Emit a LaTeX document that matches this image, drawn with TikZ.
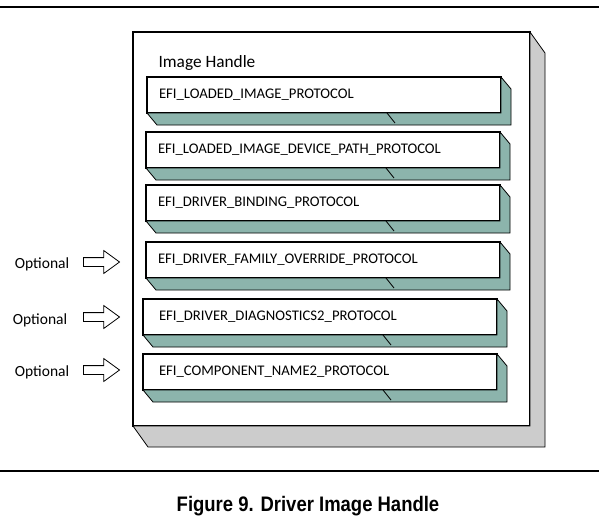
\documentclass[tikz,border=0pt]{standalone}
\usepackage{fontspec}
\setmainfont{Carlito}
\newfontfamily\capfont[FakeStretch=0.88]{Liberation Sans}
\usetikzlibrary{shapes.arrows}
\definecolor{sidecol}{HTML}{8CB4AC}
\definecolor{shellcol}{HTML}{CCCCCC}

\begin{document}
\begin{tikzpicture}[x=1pt, y=-1pt,
		front/.style={draw, line width=1.3pt, fill=white, anchor=north west, outer sep=0pt},
		slab/.style={front, inner xsep=12pt, text width=330pt, minimum height=36pt, align=left, font=\fontsize{14.7}{16}\selectfont},
		slabwide/.style={slab, inner xsep=16pt, text width=322pt},
		side/.style={draw, line width=0.8pt, fill=sidecol},
		hollow/.style={draw, line width=0.8pt, single arrow, single arrow head extend=7pt, single arrow tip angle=72, minimum height=36pt, minimum width=22pt, inner xsep=0pt, inner ysep=4pt},
		optlabel/.style={font=\fontsize{15.5}{17}\selectfont}]
	\useasboundingbox (0,0) rectangle (599,525);
	\draw[line width=2.5pt] (0,7) -- (599,7);
	\draw[line width=2.5pt] (0,471) -- (599,471);

	\node[front, minimum width=397pt, minimum height=394pt] at (133,32) (handle) {};
	\draw[side, fill=shellcol] (handle.north east) -- ++(15,21) |- ([shift={(15,21)}]handle.south west) -- (handle.south west) -| (handle.north east) -- cycle;
	\node[anchor=west, font=\fontsize{17.3}{19}\selectfont] at (155,63) (title) {Image Handle};

	\node[slab] at (147,77) (p1) {EFI\_LOADED\_IMAGE\_PROTOCOL};
	\node[slab] at (146,132) (p2) {EFI\_LOADED\_IMAGE\_DEVICE\_PATH\_PROTOCOL};
	\node[slab] at (146,185) (p3) {EFI\_DRIVER\_BINDING\_PROTOCOL};
	\node[slab] at (146,242) (p4) {EFI\_DRIVER\_FAMILY\_OVERRIDE\_PROTOCOL};
	\node[slabwide] at (143,299) (p5) {EFI\_DRIVER\_DIAGNOSTICS2\_PROTOCOL};
	\node[slabwide] at (143,354) (p6) {EFI\_COMPONENT\_NAME2\_PROTOCOL};

	\foreach \n in {p1,p2,p3,p4,p5,p6} {
		\draw[side] (\n.north east) -- ++(10,12) |- ([shift={(10,12)}]\n.south west) -- (\n.south west) -| (\n.north east) -- cycle;
		\draw[line width=0.8pt] ([xshift=-114pt]\n.south east) -- ++(8,10);
	}

	\node[optlabel] at (42,264) (o4) {Optional};
	\node[optlabel] at (40,320) (o5) {Optional};
	\node[optlabel] at (42,372) (o6) {Optional};

	\node[hollow] at (98.5,262) (a4) {};
	\node[hollow] at (98.5,317) (a5) {};
	\node[hollow] at (98.5,370) (a6) {};

	\node[font=\capfont\bfseries\fontsize{21}{23}\selectfont] at (308,506) (caption) {Figure 9. Driver Image Handle};
\end{tikzpicture}
\end{document}
